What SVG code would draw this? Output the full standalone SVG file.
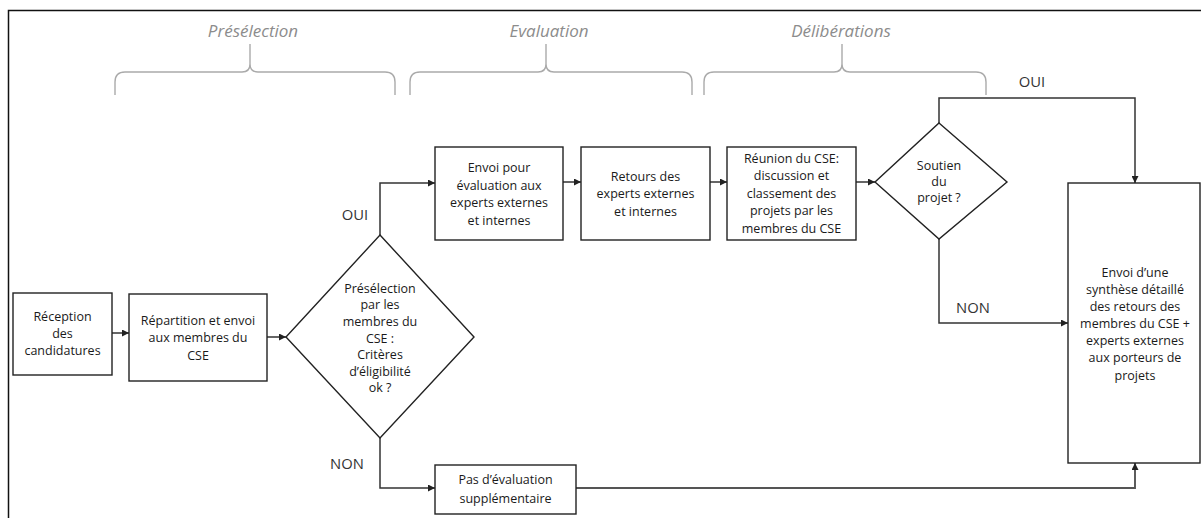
<svg xmlns="http://www.w3.org/2000/svg" width="1201" height="518" viewBox="0 0 1201 518">
<defs>
<marker id="arr" viewBox="0 0 10 10" refX="10" refY="5" markerWidth="7" markerHeight="7" markerUnits="userSpaceOnUse" orient="auto">
<path d="M0,0 L10,5 L0,10 z" fill="#222"/>
</marker>
<style>
.box{fill:#fff;stroke:#222;stroke-width:1.4}
.t{font-family:"Open Sans","Liberation Sans",sans-serif;font-size:12.5px;fill:#1a1a1a;text-anchor:middle}
.lbl{font-family:"Open Sans","Liberation Sans",sans-serif;font-size:14.8px;fill:#333;text-anchor:middle}
.hdr{font-family:"Open Sans","Liberation Sans",sans-serif;font-size:17px;font-style:italic;fill:#8c8c8c;text-anchor:middle}
.brace{fill:none;stroke:#aaa;stroke-width:1.4}
.c{fill:none;stroke:#333;stroke-width:1.5}
</style>
</defs>
<rect width="1201" height="518" fill="#fff"/>
<path d="M8.5,518 V10.5 H1201" fill="none" stroke="#111" stroke-width="1.5"/>

<g id="phases">
<text class="hdr" x="253" y="37">Présélection</text>
<path class="brace" d="M115,95 V82 Q115,72 125,72 H242 Q250,72 250,64 V44 M250,64 Q250,72 258,72 H385 Q395,72 395,82 V95"/>
<text class="hdr" x="549" y="37">Evaluation</text>
<path class="brace" d="M410,95 V82 Q410,72 420,72 H538 Q546,72 546,64 V44 M546,64 Q546,72 554,72 H682 Q692,72 692,82 V95"/>
<text class="hdr" x="841" y="37">Délibérations</text>
<path class="brace" d="M704,95 V82 Q704,72 714,72 H834 Q842,72 842,64 V44 M842,64 Q842,72 850,72 H976 Q986,72 986,82 V95"/>
</g>

<g id="connectors">
<path class="c" d="M112,333 H129" marker-end="url(#arr)"/>
<path class="c" d="M267,337 H286" marker-end="url(#arr)"/>
<path class="c" d="M380,235 V183 H435" marker-end="url(#arr)"/>
<path class="c" d="M380,438 V488 H435" marker-end="url(#arr)"/>
<path class="c" d="M563,182 H581" marker-end="url(#arr)"/>
<path class="c" d="M710,182 H727" marker-end="url(#arr)"/>
<path class="c" d="M856,182 H875" marker-end="url(#arr)"/>
<path class="c" d="M939,123 V98 H1135 V183" marker-end="url(#arr)"/>
<path class="c" d="M939,239 V323 H1068" marker-end="url(#arr)"/>
<path class="c" d="M576,488 H1135 V463" marker-end="url(#arr)" style="stroke:#555;stroke-width:1.9"/>
<text class="lbl" x="355" y="220">OUI</text>
<text class="lbl" x="347" y="469">NON</text>
<text class="lbl" x="1032" y="87">OUI</text>
<text class="lbl" x="973" y="313">NON</text>
</g>

<g id="reception">
<rect class="box" x="13" y="293" width="99" height="82"/>
<text class="t" x="62.5" y="321">Réception</text>
<text class="t" x="62.5" y="338">des</text>
<text class="t" x="62.5" y="355">candidatures</text>
</g>

<g id="repartition">
<rect class="box" x="129" y="294" width="138" height="87"/>
<text class="t" x="198" y="325">Répartition et envoi</text>
<text class="t" x="198" y="342">aux membres du</text>
<text class="t" x="198" y="360">CSE</text>
</g>

<g id="preselection">
<polygon class="box" points="380,235 474,337 380,438 286,337"/>
<text class="t" x="380" y="293">Présélection</text>
<text class="t" x="380" y="309">par les</text>
<text class="t" x="380" y="326">membres du</text>
<text class="t" x="380" y="343">CSE :</text>
<text class="t" x="380" y="359">Critères</text>
<text class="t" x="380" y="376">d’éligibilité</text>
<text class="t" x="380" y="392">ok ?</text>
</g>

<g id="envoi-eval">
<rect class="box" x="435" y="147" width="128" height="93"/>
<text class="t" x="499" y="172">Envoi pour</text>
<text class="t" x="499" y="190">évaluation aux</text>
<text class="t" x="499" y="207">experts externes</text>
<text class="t" x="499" y="225">et internes</text>
</g>

<g id="retours">
<rect class="box" x="581" y="147" width="129" height="93"/>
<text class="t" x="645.5" y="181">Retours des</text>
<text class="t" x="645.5" y="198">experts externes</text>
<text class="t" x="645.5" y="216">et internes</text>
</g>

<g id="reunion">
<rect class="box" x="727" y="147" width="129" height="93"/>
<text class="t" x="791.5" y="163">Réunion du CSE:</text>
<text class="t" x="791.5" y="180">discussion et</text>
<text class="t" x="791.5" y="198">classement des</text>
<text class="t" x="791.5" y="215">projets par les</text>
<text class="t" x="791.5" y="233">membres du CSE</text>
</g>

<g id="soutien">
<polygon class="box" points="939,123 1007,182 939,239 875,182"/>
<text class="t" x="939" y="170">Soutien</text>
<text class="t" x="939" y="186">du</text>
<text class="t" x="939" y="202">projet ?</text>
</g>

<g id="synthese">
<rect class="box" x="1068" y="183" width="132" height="280"/>
<text class="t" x="1135" y="277">Envoi d’une</text>
<text class="t" x="1135" y="294">synthèse détaillé</text>
<text class="t" x="1135" y="311">des retours des</text>
<text class="t" x="1135" y="328">membres du CSE +</text>
<text class="t" x="1135" y="345">experts externes</text>
<text class="t" x="1135" y="362">aux porteurs de</text>
<text class="t" x="1135" y="380">projets</text>
</g>

<g id="pas-eval">
<rect class="box" x="435" y="465" width="141" height="49"/>
<text class="t" x="505.5" y="484">Pas d’évaluation</text>
<text class="t" x="505.5" y="503">supplémentaire</text>
</g>
</svg>
